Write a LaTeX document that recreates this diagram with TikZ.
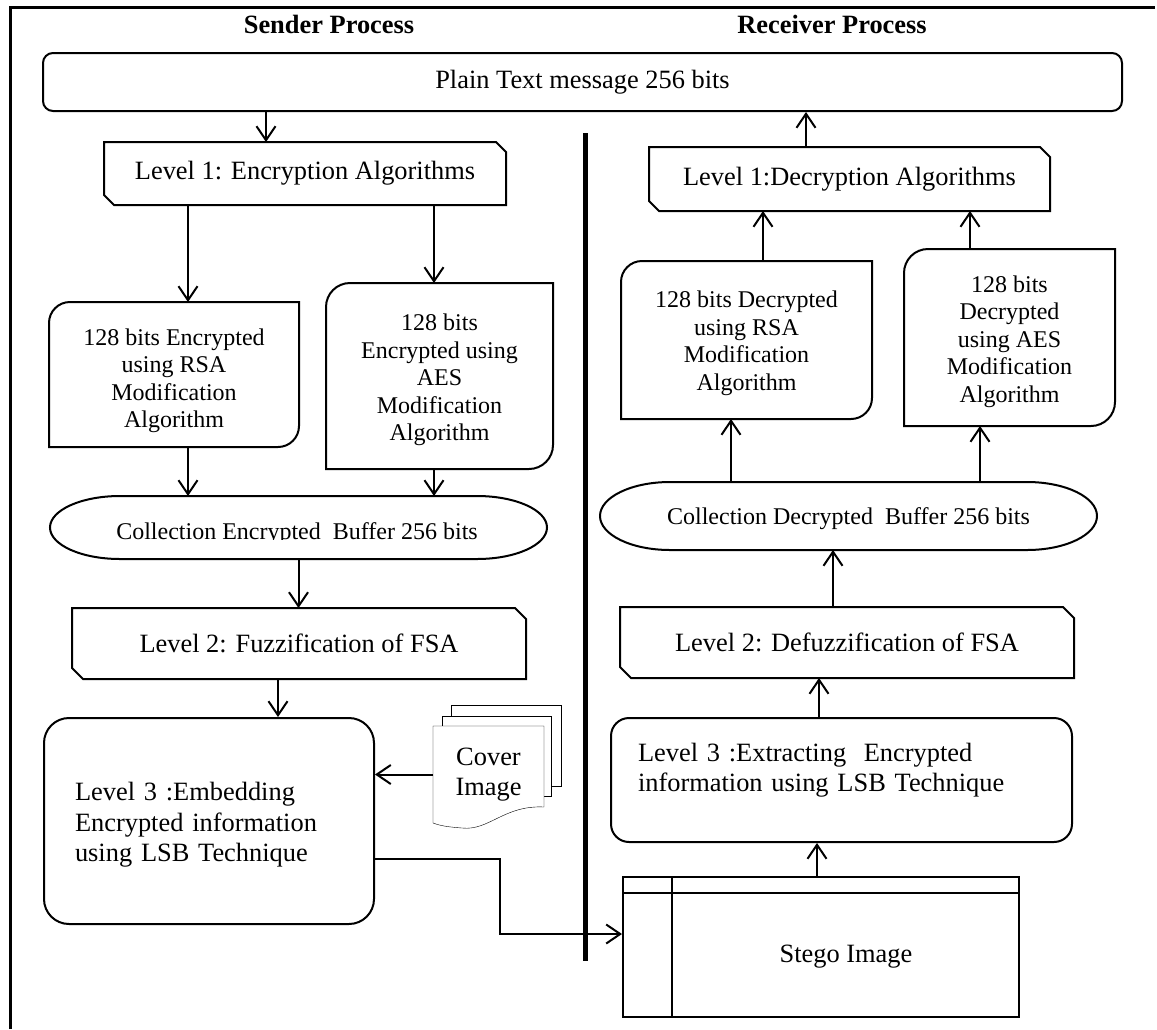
\documentclass[tikz,border=0pt]{standalone}
\usepackage{fontspec}
\setmainfont{Liberation Serif}
\usetikzlibrary{arrows.meta,backgrounds}

% box with the north-east and south-west corners cut off
\newcommand\chamferoutline[2][11pt]{%
  \draw ([xshift=-#1]#2.north east) -- ([yshift=-#1]#2.north east) -- (#2.south east)
    -- ([xshift=#1]#2.south west) -- ([yshift=#1]#2.south west) -- (#2.north west) -- cycle;}
% box with rounded north-west and south-east corners only
\newcommand\leafoutline[2][21pt]{%
  \draw ([yshift=-#1]#2.north west) arc[start angle=180,end angle=90,radius=#1]
    -- (#2.north east) -- ([yshift=#1]#2.south east)
    arc[start angle=0,end angle=-90,radius=#1] -- (#2.south west) -- cycle;}
% flat top and bottom with half-elliptic ends: node, x radius, y radius
\newcommand\capsuleoutline[3]{%
  \draw (#1.west) arc[start angle=180,end angle=90,x radius=#2,y radius=#3]
    -- ([xshift=-#2]#1.north east)
    arc[start angle=90,end angle=-90,x radius=#2,y radius=#3]
    -- ([xshift=#2]#1.south west)
    arc[start angle=270,end angle=180,x radius=#2,y radius=#3] -- cycle;}
% invisible rule that lowers a text block by giving its first line more height
\newcommand\firstlinegap[1]{\rule{0pt}{#1}}

\begin{document}
\begin{tikzpicture}[x=1pt,y=1pt,line width=2pt,
  big/.style={font=\fontsize{26.4}{30.4}\selectfont},
  small/.style={font=\fontsize{24}{27.5}\selectfont},
  lbl/.style={inner sep=0pt, align=center},
  dims/.style 2 args={minimum width=#1pt, minimum height=#2pt},
  arr/.style={-{Straight Barb[length=14pt,width=19pt]}},
  title/.style={font=\fontsize{26.4}{30}\selectfont\bfseries, inner sep=0pt, anchor=base}]
\useasboundingbox (0,0) rectangle (1157,-1029);

% frame and the line between the two processes
\draw[line width=3pt] (10,-1029) -- (10,-7) -- (1155,-7);
\draw[line width=5pt] (585,-133) -- (585,-961);

\node[title] (sender) at (329,-33) {Sender Process};
\node[title] (receiver) at (832,-33) {Receiver Process};

\node[big, lbl, draw, rounded corners=10pt, dims={1079}{58}] (plain) at (582.5,-82) {Plain Text message 256 bits};

% sender side
\node[big, lbl, dims={400}{61}] (enc) at (305,-173.5) {Level 1: Encryption Algorithms};
\chamferoutline[10pt]{enc}

\node[small, lbl, dims={248}{143}] (rsa) at (174,-374.5) {\firstlinegap{29pt}128 bits Encrypted\\using RSA\\Modification\\Algorithm};
\leafoutline[21pt]{rsa}
\node[small, lbl, dims={225}{184}] (aes) at (439.5,-376) {\firstlinegap{25pt}128 bits\\Encrypted using\\AES\\Modification\\Algorithm};
\leafoutline[24pt]{aes}

\node[inner sep=0pt, outer sep=0pt, dims={497}{63}] (collE) at (298.5,-527.5) {};
\capsuleoutline{collE}{70pt}{31.5pt}
\begin{scope}
  \clip ([yshift=19.5pt]collE.south west) rectangle (collE.north east);
  \node[small, inner sep=0pt, anchor=base] (collEtext) at (297,-539) {Collection Encrypted\ \ Buffer 256 bits};
\end{scope}

\node[big, lbl, dims={452}{69}] (fuzz) at (299,-643.5) {Level 2: Fuzzification of FSA};
\chamferoutline{fuzz}

\node[big, draw, rounded corners=25pt, dims={330}{206}, inner sep=0pt, inner xsep=31pt,
  text width=268pt, align=left] (emb) at (209,-821) {\firstlinegap{26pt}Level 3 :Embedding\\Encrypted information\\using LSB Technique};

\node[big, lbl, dims={109}{95}] (cover) at (488.5,-774.5) {Cover\\Image};
\begin{scope}[on background layer]
  \draw[fill=white] ([shift={(18pt,21pt)}]cover.north west) rectangle ([shift={(128pt,-60pt)}]cover.north west);
  \draw[fill=white] ([shift={(9pt,10pt)}]cover.north west) rectangle ([shift={(118pt,-70pt)}]cover.north west);
  \draw[fill=white] (cover.north west) -- (cover.north east) -- ([yshift=16pt]cover.south east)
    .. controls ([shift={(71pt,18pt)}]cover.south west) and ([shift={(56pt,-8pt)}]cover.south west)
    .. ([shift={(29pt,-5pt)}]cover.south west)
    .. controls ([shift={(16pt,-4pt)}]cover.south west) and ([shift={(8pt,-3pt)}]cover.south west)
    .. (cover.south west) -- cycle;
\end{scope}

% receiver side
\node[big, lbl, dims={399}{62}] (dec) at (849.5,-179) {Level 1:Decryption Algorithms};
\chamferoutline[10pt]{dec}

\node[small, lbl, dims={249}{156}] (rsad) at (746.5,-340) {\firstlinegap{23pt}128 bits Decrypted\\using RSA\\Modification\\Algorithm};
\leafoutline[21pt]{rsad}
\node[small, lbl, dims={209}{175}] (aesd) at (1009.5,-337.5) {\firstlinegap{25pt}128 bits\\Decrypted\\using AES\\Modification\\Algorithm};
\leafoutline[24pt]{aesd}

\node[small, lbl, outer sep=0pt, dims={497}{68}] (collD) at (848.5,-516) {\firstlinegap{22pt}Collection Decrypted\ \ Buffer 256 bits};
\capsuleoutline{collD}{70pt}{34pt}

\node[big, lbl, dims={452}{69}] (defuzz) at (847,-642.5) {Level 2: Defuzzification of FSA};
\chamferoutline{defuzz}

\node[big, draw, rounded corners=18pt, dims={461}{124}, inner sep=0pt, inner xsep=27pt,
  text width=407pt, align=left] (extract) at (841.5,-780) {Level 3 :Extracting\ \ Encrypted\\information using LSB Technique\\[-14pt]\strut};

\node[draw, inner sep=0pt, dims={396}{140}] (stego) at (821,-947) {};
\draw ([yshift=-17pt]stego.north west) -- ([yshift=-17pt]stego.north east);
\draw ([xshift=50pt]stego.north west) -- ([xshift=50pt]stego.south west);
\node[big, inner sep=0pt] (stegotext) at (846,-957) {Stego Image};

% sender flow
\draw[arr] ([xshift=-39pt]enc.north |- plain.south) -- ([xshift=-39pt]enc.north);
\draw[arr] ([xshift=14pt]rsa.north |- enc.south) -- ([xshift=14pt]rsa.north);
\draw[arr] ([xshift=-5.5pt]aes.north |- enc.south) -- ([xshift=-5.5pt]aes.north);
\draw[arr] ([xshift=14pt]rsa.south) -- ([xshift=14pt]rsa.south |- collE.north);
\draw[arr] ([xshift=-5.5pt]aes.south) -- ([xshift=-5.5pt]aes.south |- collE.north);
\draw[arr] (collE.south) -- (collE.south |- fuzz.north);
\draw[arr] ([xshift=69pt]emb.north |- fuzz.south) -- ([xshift=69pt]emb.north);
\draw[arr] (cover.west) -- (cover.west -| emb.east);
\draw[arr] ([yshift=-38pt]emb.east) -- ++(125pt,0) |- ([yshift=13pt]stego.west);

% receiver flow
\draw[arr] ([xshift=-4pt]stego.north) -- ([xshift=-4pt]stego.north |- extract.south);
\draw[arr] ([xshift=-22.5pt]extract.north) -- ([xshift=-22.5pt]extract.north |- defuzz.south);
\draw[arr] ([xshift=-14pt]defuzz.north) -- ([xshift=-14pt]defuzz.north |- collD.south);
\draw[arr] ([xshift=-15.5pt]rsad.south |- collD.north) -- ([xshift=-15.5pt]rsad.south);
\draw[arr] ([xshift=-29.5pt]aesd.south |- collD.north) -- ([xshift=-29.5pt]aesd.south);
\draw[arr] ([xshift=16.5pt]rsad.north) -- ([xshift=16.5pt]rsad.north |- dec.south);
\draw[arr] ([xshift=-39.5pt]aesd.north) -- ([xshift=-39.5pt]aesd.north |- dec.south);
\draw[arr] ([xshift=-43.5pt]dec.north) -- ([xshift=-43.5pt]dec.north |- plain.south);
\end{tikzpicture}
\end{document}
